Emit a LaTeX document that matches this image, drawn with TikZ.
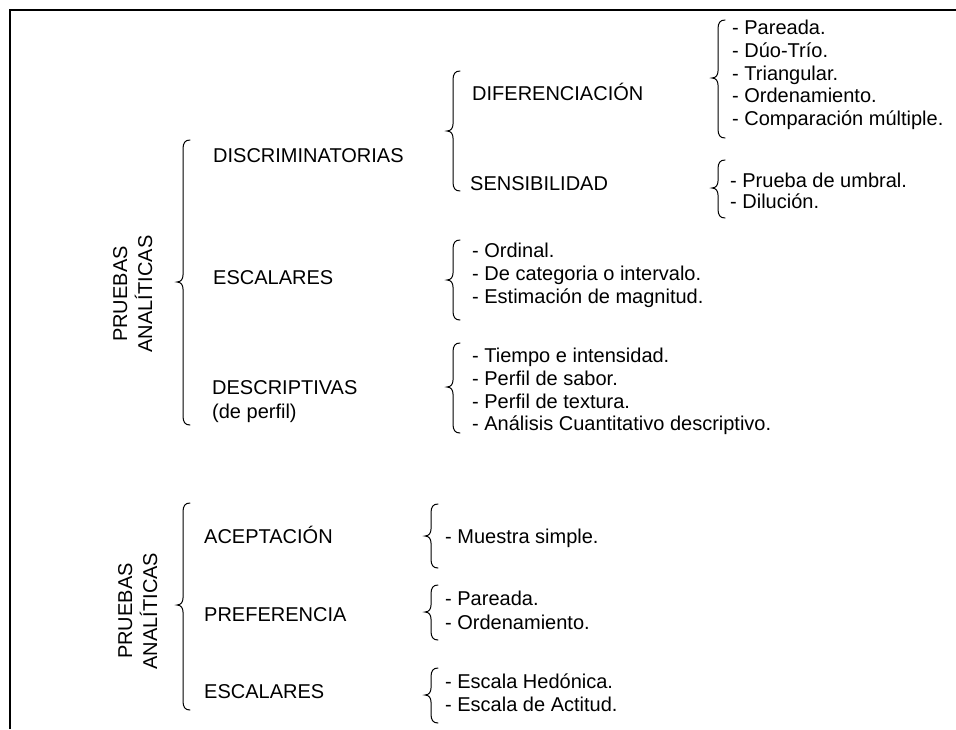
\documentclass[tikz,border=0pt]{standalone}
\usepackage{fontspec}
\setmainfont{Liberation Sans}
\newcommand{\mybrace}[4]{% #1 x of stem, #2 top, #3 bottom, #4 tip y
  \draw[brc] ({#1+7},#2) .. controls ({#1+2},#2) and (#1,{#2+3}) .. (#1,{#2+9})
    -- (#1,{#4-7}) .. controls (#1,{#4-3}) and ({#1-2},#4) .. ({#1-6},#4)
    .. controls ({#1-2},#4) and (#1,{#4+3}) .. (#1,{#4+7})
    -- (#1,{#3-9}) .. controls (#1,{#3-3}) and ({#1+2},#3) .. ({#1+7},#3);}
\begin{document}
\begin{tikzpicture}[x=1pt,y=-1pt,
  lbl/.style={anchor=base west,inner sep=0pt,font=\fontsize{20}{24}\selectfont},
  vlbl/.style={anchor=base,inner sep=0pt,rotate=90,font=\fontsize{20}{24}\selectfont},
  brc/.style={line width=1pt,line cap=round},
  frame/.style={line width=1.5pt}]
\useasboundingbox (0,0) rectangle (956,729);
% frame
\coordinate (fl) at (10,729);
\coordinate (fc) at (10,10);
\coordinate (fr) at (956,10);
\draw[frame] (fl) -- (fc) -- (fr);
% ---------- section 1 ----------
\node[vlbl] (p1) at (127,294) {PRUEBAS};
\node[vlbl] (a1) at (152,294) {ANALÍTICAS};
\mybrace{183}{140}{425}{282}
\node[lbl] (disc) at (213,162) {DISCRIMINATORIAS};
\node[lbl] (esc1) at (213,284) {ESCALARES};
\node[lbl] (desc) at (212,394) {DESCRIPTIVAS};
\node[lbl] (perf) at (212,418) {(de perfil)};
\mybrace{453}{71}{191}{131}
\node[lbl] (dif) at (472,100) {DIFERENCIACIÓN};
\node[lbl] (sen) at (470,190) {SENSIBILIDAD};
\mybrace{718}{20}{138}{78}
\node[lbl] (d1) at (732,34) {- Pareada.};
\node[lbl] (d2) at (732,57) {- Dúo-Trío.};
\node[lbl] (d3) at (732,80) {- Triangular.};
\node[lbl] (d4) at (732,102.5) {- Ordenamiento.};
\node[lbl] (d5) at (732,125.5) {- Comparación múltiple.};
\mybrace{718}{160}{218}{188}
\node[lbl] (s1) at (730,187) {- Prueba de umbral.};
\node[lbl] (s2) at (730,208) {- Dilución.};
\mybrace{453}{240}{320}{280}
\node[lbl] (e1) at (472,257) {- Ordinal.};
\node[lbl] (e2) at (472,280) {- De categoria o intervalo.};
\node[lbl] (e3) at (472,303) {- Estimación de magnitud.};
\mybrace{453}{343}{433}{387}
\node[lbl] (t1) at (472,362) {- Tiempo e intensidad.};
\node[lbl] (t2) at (472,385) {- Perfil de sabor.};
\node[lbl] (t3) at (472,408) {- Perfil de textura.};
\node[lbl] (t4) at (472,430) {- Análisis Cuantitativo descriptivo.};
% ---------- section 2 ----------
\node[vlbl] (p2) at (132,611) {PRUEBAS};
\node[vlbl] (a2) at (157,611) {ANALÍTICAS};
\mybrace{183}{503}{710}{605}
\node[lbl] (acep) at (204,543) {ACEPTACIÓN};
\node[lbl] (pref) at (204,621) {PREFERENCIA};
\node[lbl] (esc2) at (204,698) {ESCALARES};
\mybrace{431}{504}{568}{536}
\node[lbl] (m1) at (445,543) {- Muestra simple.};
\mybrace{431}{585}{640}{612}
\node[lbl] (r1) at (445,605) {- Pareada.};
\node[lbl] (r2) at (445,629) {- Ordenamiento.};
\mybrace{431}{668}{723}{695}
\node[lbl] (h1) at (445,688) {- Escala Hedónica.};
\node[lbl] (h2) at (445,711) {- Escala de Actitud.};
\end{tikzpicture}
\end{document}
